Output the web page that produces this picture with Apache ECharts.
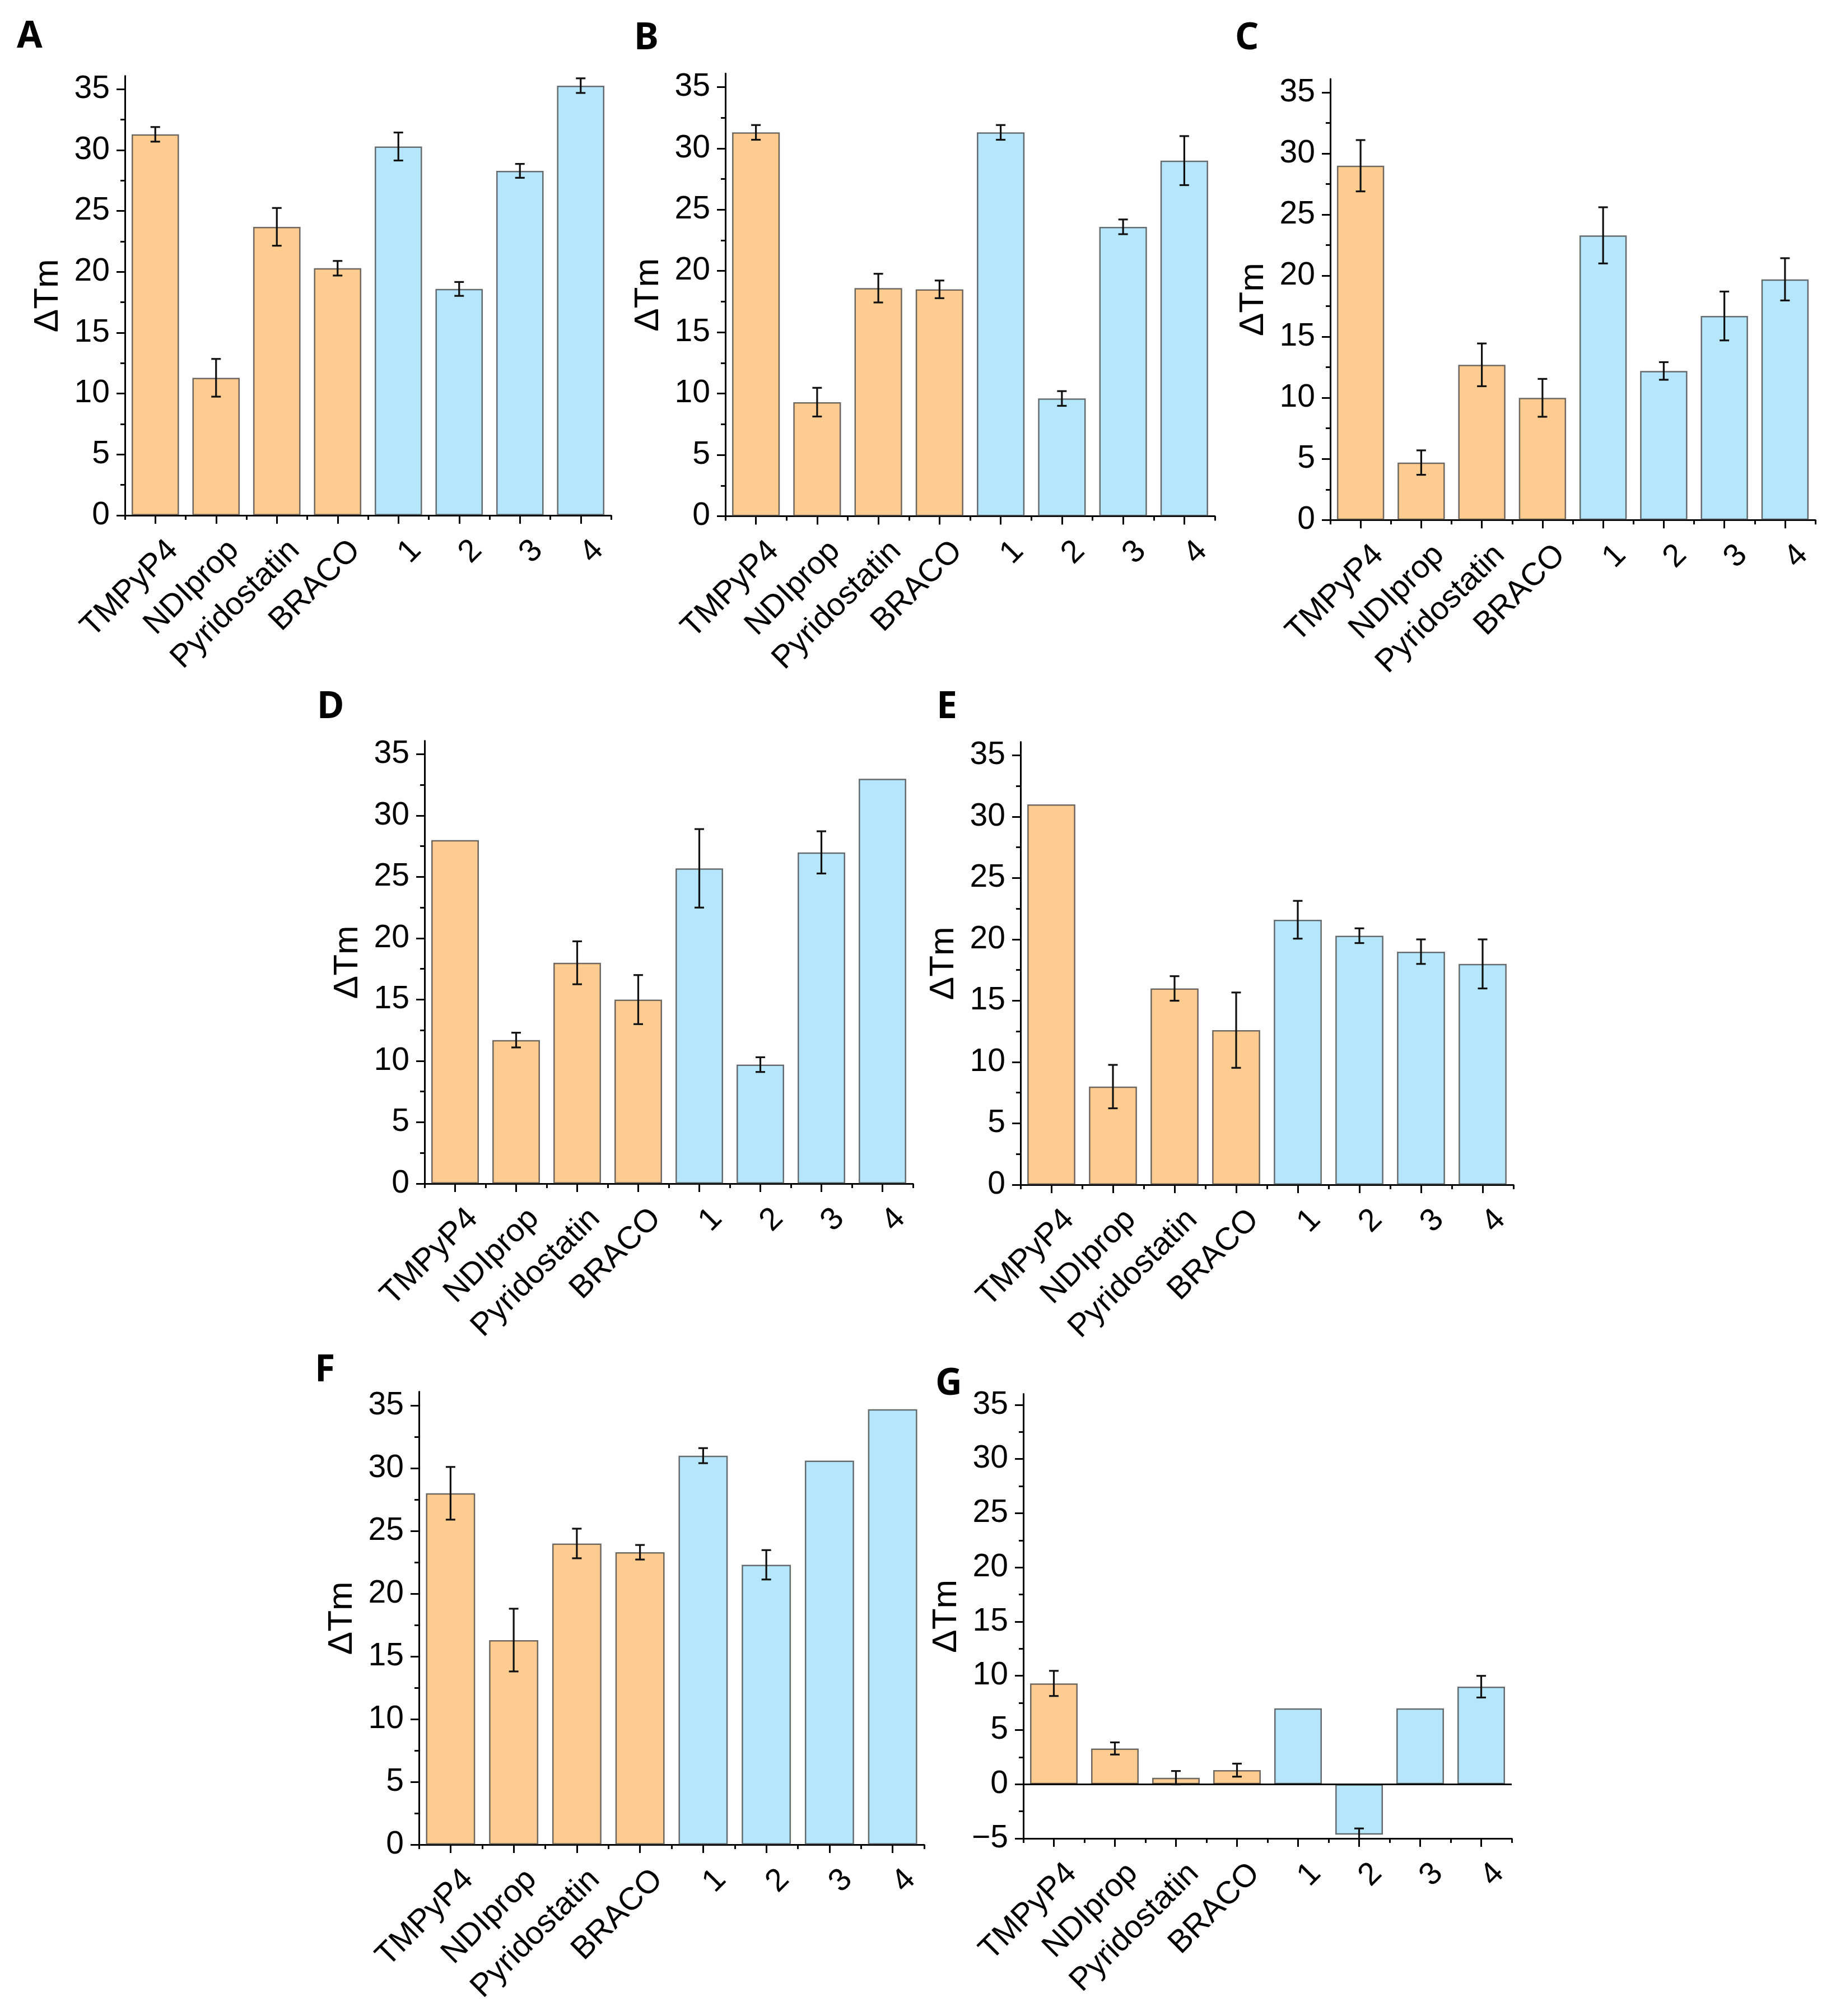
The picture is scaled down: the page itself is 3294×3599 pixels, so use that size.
<!DOCTYPE html>
<html>
<head>
<meta charset="utf-8">
<script src="https://cdn.jsdelivr.net/npm/echarts@6/dist/echarts.min.js"></script>
<style>html,body{margin:0;padding:0;background:#fff}#c{width:3294px;height:3599px}</style>
</head>
<body>
<div id="c"></div>
<script>
// ---------- data ----------
const categories = ['TMPyP4', 'NDIprop', 'Pyridostatin', 'BRACO', '1', '2', '3', '4'];

const valuesA = [31.3, 11.3, 23.7, 20.3, 30.3, 18.6, 28.3, 35.3];
const errorsA = [0.6, 1.55, 1.55, 0.6, 1.15, 0.57, 0.57, 0.6];

const valuesB = [31.3, 9.3, 18.6, 18.5, 31.3, 9.6, 23.6, 29.0];
const errorsB = [0.6, 1.17, 1.17, 0.72, 0.6, 0.6, 0.6, 2.0];

const valuesC = [29.0, 4.7, 12.7, 10.0, 23.3, 12.2, 16.7, 19.7];
const errorsC = [2.1, 1.0, 1.75, 1.55, 2.3, 0.72, 2.0, 1.73];

const valuesD = [28.0, 11.7, 18.0, 15.0, 25.7, 9.7, 27.0, 33.0];
const errorsD = [null, 0.6, 1.75, 2.0, 3.2, 0.6, 1.72, null];

const valuesE = [31.0, 8.0, 16.0, 12.6, 21.6, 20.3, 19.0, 18.0];
const errorsE = [null, 1.77, 1.0, 3.07, 1.54, 0.6, 1.0, 2.0];

const valuesF = [28.0, 16.3, 24.0, 23.3, 31.0, 22.3, 30.6, 34.7];
const errorsF = [2.1, 2.5, 1.18, 0.58, 0.6, 1.17, null, null];

const valuesG = [9.3, 3.3, 0.6, 1.3, 7.0, -4.65, 7.0, 9.0];
const errorsG = [1.16, 0.56, 0.62, 0.6, null, 0.57, null, 1.0];

const yTickLabels = [0, 5, 10, 15, 20, 25, 30, 35];
const yMinorTicks = [2.5, 7.5, 12.5, 17.5, 22.5, 27.5, 32.5];
const yTickLabelsG = [-5, 0, 5, 10, 15, 20, 25, 30, 35];
const yMinorTicksG = [-2.5, 2.5, 7.5, 12.5, 17.5, 22.5, 27.5, 32.5];

const yAxisTitle = 'ΔTm';

// ---------- layout (positions / sizes only) ----------
const panels = [
  { letter: 'A', values: valuesA, errors: errorsA, min: 0,  max: 36.1, ticks: yTickLabels,  minor: yMinorTicks,  left: 223,  top: 135.5,  width: 868, height: 784.5, lx: 30,   ly: 33 },
  { letter: 'B', values: valuesB, errors: errorsB, min: 0,  max: 36.1, ticks: yTickLabels,  minor: yMinorTicks,  left: 1295, top: 131.3,  width: 874, height: 790.2, lx: 1132, ly: 36 },
  { letter: 'C', values: valuesC, errors: errorsC, min: 0,  max: 36.1, ticks: yTickLabels,  minor: yMinorTicks,  left: 2375, top: 141,    width: 866, height: 787.3, lx: 2205, ly: 36 },
  { letter: 'D', values: valuesD, errors: errorsD, min: 0,  max: 36.1, ticks: yTickLabels,  minor: yMinorTicks,  left: 758,  top: 1322.4, width: 872, height: 790.6, lx: 566,  ly: 1230 },
  { letter: 'E', values: valuesE, errors: errorsE, min: 0,  max: 36.1, ticks: yTickLabels,  minor: yMinorTicks,  left: 1822, top: 1324.4, width: 880, height: 790.6, lx: 1672, ly: 1230 },
  { letter: 'F', values: valuesF, errors: errorsF, min: 0,  max: 36.1, ticks: yTickLabels,  minor: yMinorTicks,  left: 748,  top: 2484.4, width: 902, height: 808.6, lx: 562,  ly: 2414 },
  { letter: 'G', values: valuesG, errors: errorsG, min: -5, max: 36,   ticks: yTickLabelsG, minor: yMinorTicksG, left: 1827, top: 2488.6, width: 872, height: 793.4, lx: 1670, ly: 2438 }
];

const ORANGE = '#FECC91';
const BLUE = '#B5E6FB';
const FONT = '"Liberation Sans", Arial, sans-serif';
const AXIS_W = 3;

const grids = [], xAxes = [], yAxes = [], series = [], graphics = [];

panels.forEach((p, i) => {
  grids.push({ left: p.left, top: p.top, width: p.width, height: p.height, containLabel: false });

  // main category axis (ticks at centres, labels)
  xAxes.push({
    type: 'category', gridIndex: i, data: categories, position: 'bottom',
    axisLine: { show: true, onZero: false, lineStyle: { color: '#000', width: AXIS_W } },
    axisTick: { show: true, alignWithLabel: true, length: 15, lineStyle: { color: '#000', width: AXIS_W } },
    axisLabel: {
      interval: 0, rotate: 45, margin: 22, fontSize: 57, color: '#000', fontFamily: FONT,
      verticalAlign: 'top', lineHeight: 90
    },
    splitLine: { show: false }
  });
  // boundary (minor) ticks
  xAxes.push({
    type: 'category', gridIndex: i, data: categories, position: 'bottom',
    axisLine: { show: false, onZero: false },
    axisTick: { show: true, alignWithLabel: false, interval: 0, length: 8, lineStyle: { color: '#000', width: AXIS_W } },
    axisLabel: { show: false },
    splitLine: { show: false }
  });

  yAxes.push({
    type: 'value', gridIndex: i, min: p.min, max: p.max, position: 'left',
    name: yAxisTitle, nameLocation: 'middle', nameGap: 106,
    nameTextStyle: { fontSize: 62, color: '#000', fontFamily: FONT },
    axisLine: { show: true, onZero: false, lineStyle: { color: '#000', width: AXIS_W } },
    axisTick: { show: true, customValues: p.ticks, length: 15, lineStyle: { color: '#000', width: AXIS_W } },
    axisLabel: {
      show: true, customValues: p.ticks, margin: 27, fontSize: 57, color: '#000', fontFamily: FONT,
      formatter: v => String(v).replace('-', '\u2212')
    },
    splitLine: { show: false }
  });
  yAxes.push({
    type: 'value', gridIndex: i, min: p.min, max: p.max, position: 'left', offset: 0,
    axisLine: { show: false },
    axisTick: { show: true, customValues: p.minor, length: 8, lineStyle: { color: '#000', width: AXIS_W } },
    axisLabel: { show: false },
    splitLine: { show: false }
  });

  const barSeries = {
    type: 'bar', xAxisIndex: 2 * i, yAxisIndex: 2 * i,
    data: p.values,
    barCategoryGap: '22%',
    itemStyle: {
      color: params => (params.dataIndex < 4 ? ORANGE : BLUE),
      borderColor: 'rgba(55,55,55,0.72)', borderWidth: 2.5
    },
    silent: true, z: 2
  };
  if (p.min < 0) {
    barSeries.markLine = {
      silent: true, symbol: ['none', 'none'], label: { show: false },
      lineStyle: { color: '#000', width: AXIS_W, type: 'solid' },
      data: [{ yAxis: 0 }]
    };
  }
  series.push(barSeries);

  const errData = [];
  p.errors.forEach((e, k) => { if (e != null) errData.push([k, p.values[k], e]); });
  const axisMin = p.min;
  series.push({
    type: 'custom', xAxisIndex: 2 * i, yAxisIndex: 2 * i, z: 5, silent: true,
    encode: { x: 0, y: 1 },
    data: errData,
    renderItem: (params, api) => {
      const x = api.value(0), v = api.value(1), e = api.value(2);
      const hi = v + e;
      let lo = v - e, loCap = true;
      if (lo < axisMin) { lo = axisMin; loCap = false; }
      const pHi = api.coord([x, hi]);
      const pLo = api.coord([x, lo]);
      const hw = 8.5;
      const st = { stroke: '#111', lineWidth: 3.2 };
      const children = [
        { type: 'line', shape: { x1: pHi[0], y1: pHi[1], x2: pLo[0], y2: pLo[1] }, style: st },
        { type: 'line', shape: { x1: pHi[0] - hw, y1: pHi[1], x2: pHi[0] + hw, y2: pHi[1] }, style: st }
      ];
      if (loCap) children.push({ type: 'line', shape: { x1: pLo[0] - hw, y1: pLo[1], x2: pLo[0] + hw, y2: pLo[1] }, style: st });
      return { type: 'group', children };
    }
  });

  graphics.push({
    type: 'text', left: p.lx, top: p.ly,
    style: { text: p.letter, font: 'bold 66px "Noto Sans", "Liberation Sans", sans-serif', fill: '#000' }
  });
});

const chart = echarts.init(document.getElementById('c'), null, { renderer: 'canvas' });
chart.setOption({
  animation: false,
  backgroundColor: '#fff',
  grid: grids,
  xAxis: xAxes,
  yAxis: yAxes,
  series: series,
  graphic: graphics
});
</script>
</body>
</html>
